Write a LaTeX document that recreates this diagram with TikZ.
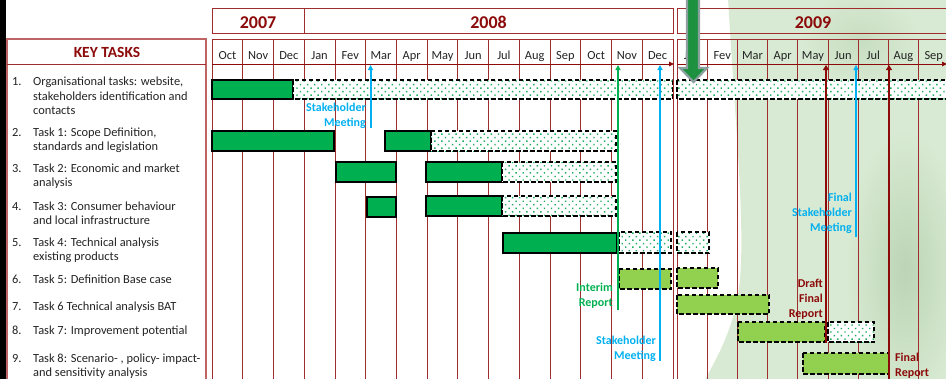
\documentclass[tikz,border=0pt]{standalone}
\usepackage{fontspec}
\setmainfont{Carlito}
\usetikzlibrary{patterns.meta,arrows.meta}
\definecolor{gSolid}{RGB}{0,176,80}
\definecolor{gLight}{RGB}{146,208,80}
\definecolor{dotG}{RGB}{30,175,95}
\definecolor{msBlue}{RGB}{0,176,240}
\definecolor{dRed}{RGB}{140,10,10}
\definecolor{gridR}{RGB}{160,45,45}
\definecolor{boxR}{RGB}{190,100,100}
\definecolor{txt}{RGB}{35,35,35}
\definecolor{bgG}{RGB}{216,234,211}
\definecolor{bgD}{RGB}{188,213,181}
\definecolor{arrG}{RGB}{30,145,65}
\definecolor{arrE}{RGB}{140,160,160}
\tikzset{
  solidbar/.style={draw=black, line width=1.1pt, fill=gSolid},
  lightbar/.style={draw=black, line width=1.1pt, dash pattern=on 4.5pt off 2.5pt, fill=gLight},
  dotbar/.style={draw=black, line width=1.1pt, dash pattern=on 4.5pt off 2.5pt,
    preaction={fill=white}, pattern={Dots[angle=45,distance=5pt,radius=1pt]}, pattern color=dotG},
  gridline/.style={draw=gridR, line width=0.8pt},
  monthlbl/.style={text=txt, anchor=base, inner sep=0pt},
  yearlbl/.style={text=dRed, font=\fontsize{18}{20}\selectfont\bfseries, anchor=base, inner sep=0pt},
  tasklbl/.style={text=txt, anchor=base west, align=left, inner sep=0pt},
  numlbl/.style={text=txt, anchor=base west, inner sep=0pt},
  notelbl/.style={font=\fontsize{12}{15}\selectfont\bfseries, align=right, anchor=base east, inner sep=0pt},
  notelblL/.style={font=\fontsize{12}{15}\selectfont\bfseries, align=left, anchor=base west, inner sep=0pt},
  msline/.style={line width=2pt, -{Triangle[length=5pt,width=5pt]}},
  redline/.style={line width=2.8pt, -{Triangle[length=5pt,width=6pt]}},
  yearbox/.style={draw=gridR, line width=0.8pt},
}
\begin{document}
\begin{tikzpicture}[x=1pt,y=-1pt, font=\fontsize{12.4}{14.5}\selectfont]
\useasboundingbox (0,0) rectangle (946,378);
% background decoration
\fill[bgG] (728,-2) .. controls (735,120) and (745,220) .. (740,280)
  .. controls (735,330) and (715,360) .. (705,380) -- (950,380) -- (950,-2) -- cycle;
\shade[inner color=bgD, outer color=bgG] (905,270) ellipse (60 and 140);
\shade[inner color=bgD!60!bgG, outer color=bgG] (860,40) ellipse (60 and 50);
% left black strip
\fill[black] (0,-2) rectangle (5.5,380);
% left task box
\draw[boxR, line width=1.4pt] (7,385) -- (7,39) -- (206,39) -- (206,385);
\draw[gridR, line width=1pt] (7,64) -- (206,64);
\node[text=dRed, font=\fontsize{15.5}{17}\selectfont\bfseries, anchor=base, inner sep=0pt] (keytasks) at (107,57) {KEY TASKS};
% year boxes
\draw[yearbox] (212,8) rectangle (304,33);
\draw[yearbox] (304,8) rectangle (673,33);
\draw[yearbox] (677,8) rectangle (960,33);
\node[yearlbl] (y2007) at (258,28) {2007};
\node[yearlbl] (y2008) at (488.5,28) {2008};
\node[yearlbl] (y2009) at (813,28) {2009};
% month row
\draw[gridR, line width=0.8pt] (212,39) -- (673,39);
\draw[gridR, line width=0.8pt] (677,39) -- (950,39);
\foreach \i in {0,...,15} \draw[gridline] ({212+30.73*\i},39) -- ({212+30.73*\i},380);
\foreach \i in {0,...,8} \draw[gridline] ({677+30.2*\i},39) -- ({677+30.2*\i},380);
\foreach \m [count=\i from 0] in {Oct,Nov,Dec,Jan,Fev,Mar,Apr,May,Jun,Jul,Aug,Sep,Oct,Nov,Dec}
  \node[monthlbl] (ma\i) at ({212+30.73*(\i+0.5)},59) {\m};
\foreach \m [count=\i from 0] in {Jan,Fev,Mar,Apr,May,Jun,Jul,Aug,Sep}
  \node[monthlbl] (mb\i) at ({677+30.2*(\i+0.5)},59) {\m};
\coordinate (axA0) at (212,64); \coordinate (axA1) at (674,64);
\coordinate (axB0) at (677,64); \coordinate (axB1) at (947,64);
\draw[dRed, line width=1pt, -{Triangle[length=5pt,width=4.5pt]}] (axA0) -- (axA1);
\draw[dRed, line width=1pt, -{Triangle[length=5pt,width=4.5pt]}] (axB0) -- (axB1);
% tasks (node base = baseline of last line)
\foreach \n/\y in {1/85.5,2/136,3/172,4/210,5/246,6/283,7/310,8/334,9/362}
  \node[numlbl] (num\n) at (12,\y) {\n.};
\node[tasklbl] (t1) at (33,114.5) {Organisational tasks: website,\\stakeholders identification and\\contacts};
\node[tasklbl] (t2) at (33,150.5) {Task 1: Scope Definition,\\standards and legislation};
\node[tasklbl] (t3) at (33,186.5) {Task 2: Economic and market\\analysis};
\node[tasklbl] (t4) at (33,224.5) {Task 3: Consumer behaviour\\and local infrastructure};
\node[tasklbl] (t5) at (33,260.5) {Task 4: Technical analysis\\existing products};
\node[tasklbl] (t6) at (33,283) {Task 5: Definition Base case};
\node[tasklbl] (t7) at (33,310) {Task 6 Technical analysis BAT};
\node[tasklbl] (t8) at (33,334) {Task 7: Improvement potential};
\node[tasklbl] (t9) at (33,376.5) {Task 8: Scenario- , policy- impact-\\and sensitivity analysis};
% bars
\draw[solidbar] (212,80) rectangle (293,99);
\draw[dotbar] (293,80) rectangle (672.5,99);
\draw[dotbar] (677,80) rectangle (960,99);
\draw[solidbar] (212,131) rectangle (334,151);
\draw[solidbar] (385,131) rectangle (431,151);
\draw[dotbar] (431,131) rectangle (616,151);
\draw[solidbar] (336,162) rectangle (396,182);
\draw[solidbar] (426,162) rectangle (502,182);
\draw[dotbar] (502,162) rectangle (616,182);
\draw[solidbar] (367,197) rectangle (396,217);
\draw[solidbar] (426,196) rectangle (502,216);
\draw[dotbar] (502,196) rectangle (616,216);
\draw[solidbar] (503,233) rectangle (617,253);
\draw[dotbar] (619,232) rectangle (671,253);
\draw[dotbar] (677,232) rectangle (709,253);
\draw[lightbar] (619,269) rectangle (671,289);
\draw[lightbar] (677,268) rectangle (718,288);
\draw[lightbar] (677,295) rectangle (769,314);
\draw[lightbar] (738,322) rectangle (825,342);
\draw[dotbar] (828,322) rectangle (874,342);
\draw[lightbar] (803,353) rectangle (889,374);
% milestones
\coordinate (s1b) at (370.5,128); \coordinate (s1t) at (370.5,65);
\coordinate (irb) at (618,310);   \coordinate (irt) at (618,65);
\coordinate (s2b) at (660,361);   \coordinate (s2t) at (660,65);
\coordinate (dfb) at (826,343);   \coordinate (dft) at (826,65);
\coordinate (fsb) at (856,237);   \coordinate (fst) at (856,65);
\coordinate (frb) at (889,382);   \coordinate (frt) at (889,65);
\draw[msline, msBlue] (s1b) -- (s1t);
\draw[msline, gSolid] (irb) -- (irt);
\draw[msline, msBlue] (s2b) -- (s2t);
\draw[redline, dRed] (dfb) -- (dft);
\draw[msline, msBlue] (fsb) -- (fst);
\draw[redline, dRed] (frb) -- (frt);
\node[notelbl, text=msBlue] (n1) at (366,126) {Stakeholder\\Meeting};
\node[notelbl, text=gSolid] (n2) at (613,306) {Interim\\Report};
\node[notelbl, text=msBlue] (n3) at (656,359) {Stakeholder\\Meeting};
\node[notelbl, text=dRed] (n4) at (823,317) {Draft\\Final\\Report};
\node[notelbl, text=msBlue] (n5) at (852,231) {Final\\Stakeholder\\Meeting};
\node[notelblL, text=dRed] (n6) at (895,376) {Final\\Report};
% big arrow
\draw[arrE, line width=2.2pt, fill=arrG, line join=miter] (687,-4) -- (687,68) -- (680,68) -- (693.5,82) -- (707,68) -- (699,68) -- (699,-4) -- cycle;
\end{tikzpicture}
\end{document}
